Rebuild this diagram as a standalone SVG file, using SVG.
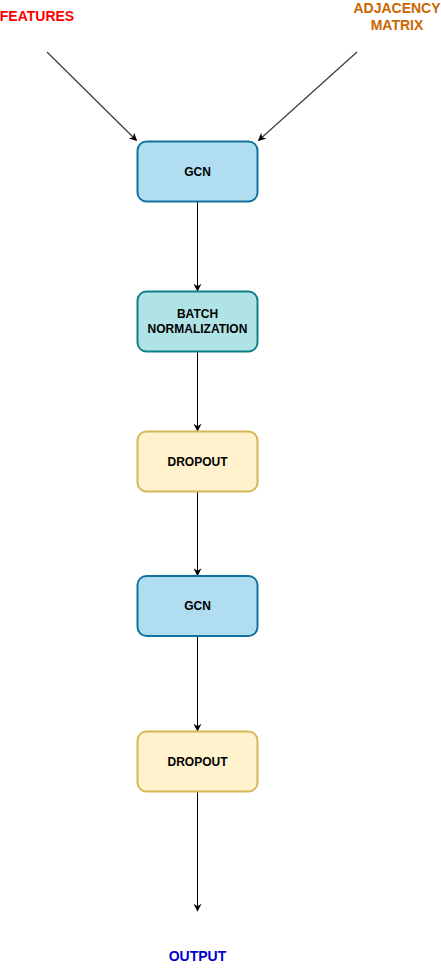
<svg xmlns="http://www.w3.org/2000/svg" width="441" height="972" viewBox="0 0 441 972">
<style>
text{font-family:"Liberation Sans",Arial,sans-serif;font-weight:bold;text-anchor:middle}
.lbl{font-size:12px;fill:#000}
.big{font-size:14px}
.box{stroke-width:2}
.gcn{fill:#b1ddf0;stroke:#10739e}
.bn{fill:#b0e3e6;stroke:#0e8088}
.drop{fill:#fff2cc;stroke:#d6b656}
.edge{fill:none;stroke:#000;stroke-width:1}
.gray{stroke:#3a3a3a;stroke-width:1.2}
</style>
<defs>
<marker id="ah" viewBox="0 0 10 10" refX="9" refY="5" markerWidth="8" markerHeight="8" markerUnits="userSpaceOnUse" orient="auto">
<path d="M0,0 L10,5 L0,10 L3,5 Z" fill="#000"/>
</marker>
</defs>
<g id="connectors">
<line class="edge gray" x1="47" y1="52" x2="136.5" y2="140.5" marker-end="url(#ah)"/>
<line class="edge gray" x1="357" y1="52" x2="258.5" y2="140.5" marker-end="url(#ah)"/>
<line class="edge" x1="197.5" y1="201.5" x2="197.5" y2="291" marker-end="url(#ah)"/>
<line class="edge" x1="197.5" y1="351.5" x2="197.5" y2="431" marker-end="url(#ah)"/>
<line class="edge" x1="197.5" y1="491.5" x2="197.5" y2="575.5" marker-end="url(#ah)"/>
<line class="edge" x1="197.5" y1="636" x2="197.5" y2="731" marker-end="url(#ah)"/>
<line class="edge" x1="197.5" y1="791.5" x2="197.5" y2="911" marker-end="url(#ah)"/>
</g>
<g id="features"><text class="big" x="37" y="21" fill="#ff0000">FEATURES</text></g>
<g id="adjacency"><text class="big" x="397" y="13" fill="#cc6600">ADJACENCY</text><text class="big" x="397" y="30" fill="#cc6600">MATRIX</text></g>
<g id="gcn1"><rect class="box gcn" x="137.5" y="141.5" width="120" height="60" rx="9"/><text class="lbl" x="197.5" y="175.5">GCN</text></g>
<g id="batchnorm"><rect class="box bn" x="137.5" y="291.5" width="120" height="60" rx="9"/><text class="lbl" x="197.5" y="318">BATCH</text><text class="lbl" x="197.5" y="333">NORMALIZATION</text></g>
<g id="dropout1"><rect class="box drop" x="137.5" y="431.5" width="120" height="60" rx="9"/><text class="lbl" x="197.5" y="465.5">DROPOUT</text></g>
<g id="gcn2"><rect class="box gcn" x="137.5" y="576" width="120" height="60" rx="9"/><text class="lbl" x="197.5" y="610">GCN</text></g>
<g id="dropout2"><rect class="box drop" x="137.5" y="731.5" width="120" height="60" rx="9"/><text class="lbl" x="197.5" y="765.5">DROPOUT</text></g>
<g id="output"><text class="big" x="197.5" y="961" fill="#0000cc">OUTPUT</text></g>
</svg>
